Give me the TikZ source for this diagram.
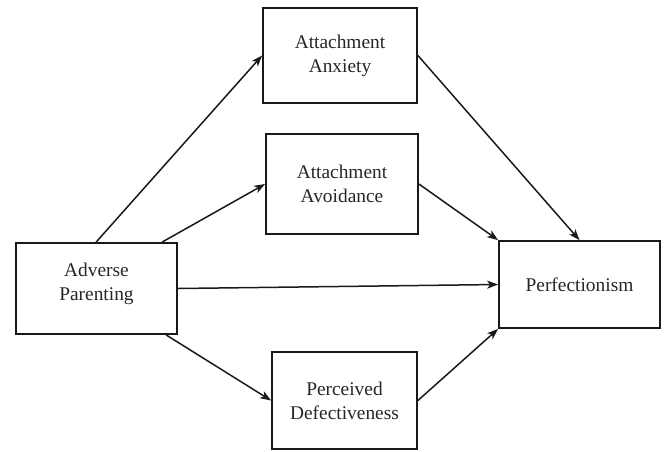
\documentclass[tikz,border=0pt]{standalone}
\usepackage{fontspec}
\setmainfont{Liberation Serif}
\usetikzlibrary{arrows.meta}
\begin{document}
\begin{tikzpicture}[x=1pt,y=-1pt,
  box/.style={draw=black!90, line width=1.8pt, align=center, inner sep=0pt,
    font=\fontsize{19.4}{24}\selectfont, text=black!85},
  conn/.style={draw=black!90, line width=1.5pt, -{Stealth[length=11pt,width=8pt,inset=3pt]}}]
\useasboundingbox (0,0) rectangle (664,451);
\node[box, minimum width=161pt, minimum height=91pt, text depth=14pt] (ap) at (96.5,288.5) {Adverse\\Parenting};
\node[box, minimum width=154pt, minimum height=95pt] (ax) at (340,55.5) {Attachment\\Anxiety};
\node[box, minimum width=152pt, minimum height=100pt] (av) at (342,184) {Attachment\\Avoidance};
\node[box, minimum width=161pt, minimum height=87pt] (pf) at (579.5,284.5) {Perfectionism};
\node[box, minimum width=145pt, minimum height=97pt] (ds) at (344.5,400.5) {Perceived\\Defectiveness};
\coordinate (s1) at ([xshift=81pt]ap.north west);
\coordinate (s2) at ([xshift=147pt]ap.north west);
\coordinate (s4) at ([xshift=151pt]ap.south west);
\draw[conn] (s1) -- (ax.west);
\draw[conn] (s2) -- (av.west);
\draw[conn] (ap.east) -- (pf.west);
\draw[conn] (s4) -- (ds.west);
\draw[conn] (ax.east) -- (pf.north);
\draw[conn] (av.east) -- (pf.north west);
\draw[conn] (ds.east) -- (pf.south west);
\end{tikzpicture}
\end{document}
